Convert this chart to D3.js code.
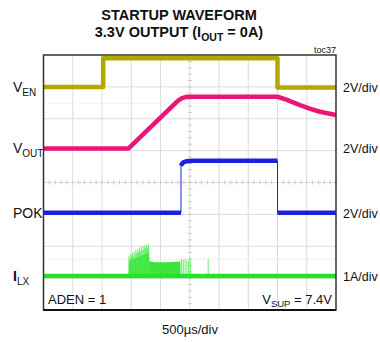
<!DOCTYPE html>
<meta charset="utf-8">
<style>
body { margin: 0; background: #fff; font-family: "Liberation Sans", Arial, sans-serif; }
text { fill: #111; }
</style>
<body>
<script src="https://cdnjs.cloudflare.com/ajax/libs/d3/7.8.5/d3.min.js"></script>
<script>
// time in divisions (0..10), level in divisions (-4..4, 0 = screen centre)
var venT  = [0, 2.04, 2.04, 8.0, 8.0, 10];
var venV  = [3.0, 3.0, 3.9, 3.9, 2.98, 2.98];

var voutT = [0, 2.91, 4.6, 4.72, 4.85, 5.0, 8.0, 8.3, 8.77, 9.1, 9.45, 10];
var voutV = [1.07, 1.07, 2.57, 2.64, 2.68, 2.69, 2.69, 2.6, 2.43, 2.32, 2.22, 2.12];

var pokT  = [0, 4.7, 4.7, 4.74, 4.8, 4.9, 5.1, 8.0, 8.0, 10];
var pokV  = [-0.95, -0.95, 0.52, 0.6, 0.64, 0.67, 0.68, 0.68, -0.95, -0.95];

var ilxT  = [0, 10];
var ilxV  = [-2.93, -2.93];
// switching burst: spike tops
var burstT = [2.92, 2.95, 2.98, 3.01, 3.04, 3.07, 3.1, 3.13, 3.16, 3.19, 3.22, 3.25, 3.28, 3.31, 3.34, 3.37, 3.4,
              3.43, 3.46, 3.49, 3.52, 3.55, 3.58, 3.6,
              4.72, 4.78, 4.84, 4.9, 4.96, 5.02, 5.63];
var burstV = [-2.3, -2.4, -2.25, -2.33, -2.2, -2.3, -2.15, -2.25, -2.12, -2.22, -2.1, -2.2, -2.05, -2.16, -2.02, -2.12, -2.0,
              -2.1, -1.98, -2.06, -1.95, -2.04, -1.94, -2.02,
              -2.4, -2.42, -2.4, -2.42, -2.45, -2.37, -2.4];
// filled envelope of the burst
var envT = [2.91, 2.93, 3.2, 3.6, 3.62, 3.8, 4.2, 4.68, 4.69];
var envV = [-2.93, -2.45, -2.35, -2.2, -2.47, -2.5, -2.5, -2.48, -2.93];

var leftLabels  = [["V", "EN", 3.0], ["V", "OUT", 1.07], ["POK", "", -0.95], ["I", "LX", -2.93]];
var rightLabels = [["2V/div", 3.0], ["2V/div", 1.07], ["2V/div", -0.95], ["1A/div", -2.93]];

var W = 380, H = 342;
var x = d3.scaleLinear().domain([0, 10]).range([43.5, 336]);
var y = d3.scaleLinear().domain([-4, 4]).range([310, 55]);

var svg = d3.select("body").append("svg").attr("width", W).attr("height", H);

// titles
svg.append("text").attr("x", 179).attr("y", 19.5).attr("text-anchor", "middle")
  .style("font-weight", "bold").style("font-size", "14.5px").text("STARTUP WAVEFORM");
var t2 = svg.append("text").attr("x", 179).attr("y", 37).attr("text-anchor", "middle")
  .style("font-weight", "bold").style("font-size", "14.5px");
t2.append("tspan").text("3.3V OUTPUT (I");
t2.append("tspan").attr("dy", 4).style("font-size", "10.5px").text("OUT");
t2.append("tspan").attr("dy", -4).text(" = 0A)");
svg.append("text").attr("x", 336).attr("y", 53).attr("text-anchor", "end")
  .style("font-size", "9px").text("toc37");

// graticule
var g = svg.append("g");
g.append("rect").attr("x", x(0)).attr("y", y(4)).attr("width", x(10) - x(0)).attr("height", y(-4) - y(4))
  .attr("fill", "#fff");
g.selectAll(".vg").data(d3.range(1, 10)).enter().append("line")
  .attr("x1", d => x(d)).attr("x2", d => x(d)).attr("y1", y(4)).attr("y2", y(-4))
  .attr("stroke", "#dcdcdc").attr("stroke-width", 1);
g.selectAll(".hg").data(d3.range(-3, 4)).enter().append("line")
  .attr("y1", d => y(d)).attr("y2", d => y(d)).attr("x1", x(0)).attr("x2", x(10))
  .attr("stroke", "#dcdcdc").attr("stroke-width", 1);
// minor ticks on centre lines
g.selectAll(".mx").data(d3.range(0, 10.01, 0.2)).enter().append("line")
  .attr("x1", d => x(d)).attr("x2", d => x(d)).attr("y1", y(0) - 2).attr("y2", y(0) + 2)
  .attr("stroke", "#c8c8c8");
g.selectAll(".my").data(d3.range(-4, 4.01, 0.2)).enter().append("line")
  .attr("y1", d => y(d)).attr("y2", d => y(d)).attr("x1", x(5) - 2).attr("x2", x(5) + 2)
  .attr("stroke", "#c8c8c8");
// faint ghost reference lines
[2.47, -2.4].forEach(function (v) {
  g.append("line").attr("x1", x(0)).attr("x2", x(10)).attr("y1", y(v)).attr("y2", y(v))
    .attr("stroke", "#e4e4e4").attr("stroke-dasharray", "2,2");
});

var line = d3.line().x(d => x(d[0])).y(d => y(d[1]));
function trace(t, v, color, w) {
  g.append("path").datum(d3.zip(t, v)).attr("d", line)
    .attr("fill", "none").attr("stroke", color).attr("stroke-width", w)
    .attr("stroke-linejoin", "round");
}

// ILX burst
var green = "#26e226";
g.append("path").datum(d3.zip(envT, envV))
  .attr("d", line).attr("fill", green).attr("opacity", 0.9);
g.selectAll(".sp").data(d3.zip(burstT, burstV)).enter().append("line")
  .attr("x1", d => x(d[0])).attr("x2", d => x(d[0])).attr("y1", y(-2.93)).attr("y2", d => y(d[1]))
  .attr("stroke", "#4ee84e").attr("stroke-width", 0.8);
trace(ilxT, ilxV, green, 4.5);

trace(venT, venV, "#b0aa00", 4.5);
// POK edges are thin, levels thick
trace(pokT, pokV, "#1a22e0", 1);
trace(pokT.slice(0, 2), pokV.slice(0, 2), "#1a22e0", 4.5);
trace(pokT.slice(2, 8), pokV.slice(2, 8), "#1a22e0", 4.5);
trace(pokT.slice(8), pokV.slice(8), "#1a22e0", 4.5);
trace(voutT, voutV, "#ea1677", 4.5);

// frame
g.append("rect").attr("x", x(0)).attr("y", y(4)).attr("width", x(10) - x(0)).attr("height", y(-4) - y(4))
  .attr("fill", "none").attr("stroke", "#333").attr("stroke-width", 1.5);
g.append("line").attr("x1", x(0)).attr("x2", x(10)).attr("y1", y(-4)).attr("y2", y(-4))
  .attr("stroke", "#111").attr("stroke-width", 2);

// channel labels
leftLabels.forEach(function (d) {
  var t = svg.append("text").attr("x", 13).attr("y", y(d[2]) + 5).style("font-size", "14px");
  t.append("tspan").style("font-weight", d[0] == "I" ? "bold" : "normal").text(d[0]);
  if (d[1]) t.append("tspan").attr("dy", 4).style("font-size", "10px").text(d[1]);
});
rightLabels.forEach(function (d) {
  svg.append("text").attr("x", 343).attr("y", y(d[1]) + 5)
    .style("font-size", "12.5px").text(d[0]);
});

svg.append("text").attr("x", 48).attr("y", 304).style("font-size", "13px").text("ADEN = 1");
var vs = svg.append("text").attr("x", 332).attr("y", 304).attr("text-anchor", "end").style("font-size", "13px");
vs.append("tspan").text("V");
vs.append("tspan").attr("dy", 3).style("font-size", "9.5px").text("SUP");
vs.append("tspan").attr("dy", -3).text(" = 7.4V");
svg.append("text").attr("x", 190).attr("y", 334).attr("text-anchor", "middle")
  .style("font-size", "13px").text("500µs/div");
</script>
</body>
